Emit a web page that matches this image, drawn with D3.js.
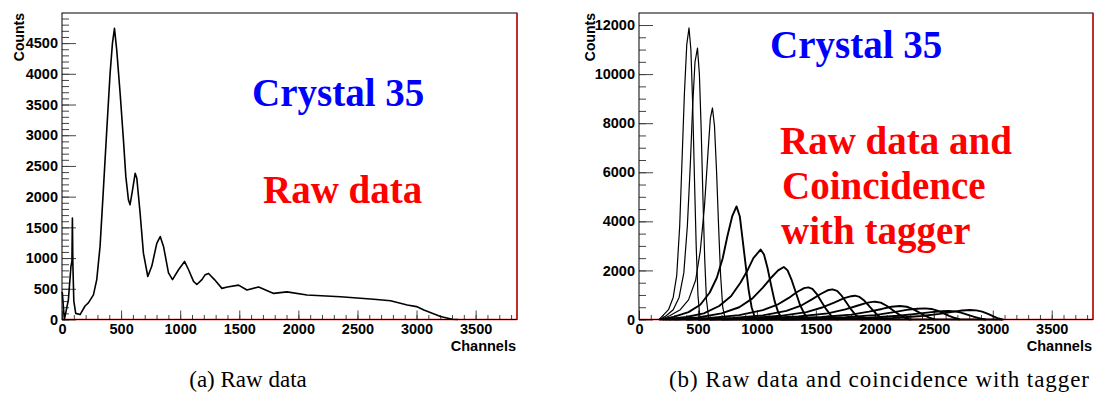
<!DOCTYPE html>
<html><head><meta charset="utf-8">
<script src="https://cdn.jsdelivr.net/npm/d3@7/dist/d3.min.js"></script>
<style>
body{margin:0;background:#fff;}
svg{display:block;}
.tick text{font-family:"Liberation Sans",Arial,sans-serif;font-weight:bold;font-size:14.5px;fill:#000;}
</style></head>
<body><svg id="chart" width="1100" height="401"></svg>
<script>
// ---------- data ----------
const xTicks = [0,500,1000,1500,2000,2500,3000,3500];
const xMinor = d3.range(0,3851,100);
const leftYTicks = [0,500,1000,1500,2000,2500,3000,3500,4000,4500];
const leftYMinor = d3.range(0,4991,100);
const rightYTicks = [0,2000,4000,6000,8000,10000,12000];
const rightYMinor = d3.range(0,12491,500);
const xMax = 3850, leftYMax = 4990, rightYMax = 12490;

// raw spectrum (channel, counts)
const rawChannels = [0,3,20,54,76,84,88,92,100,116,153,195,223,266,294,322,350,379,407,427,444,463,492,520,540,562,576,596,619,633,661,689,726,760,802,831,859,901,935,986,1037,1071,1113,1141,1184,1212,1240,1290,1353,1400,1494,1565,1664,1791,1904,2073,2356,2638,2780,2921,3000,3062,3203,3302,3350];
const rawCounts   = [450,430,0,320,870,950,1650,900,300,100,80,220,270,400,650,1190,2110,3090,4010,4500,4740,4390,3680,2920,2330,1950,1870,2100,2380,2300,1730,1080,700,870,1240,1350,1190,760,650,810,945,810,620,570,650,730,750,650,507,530,560,480,530,425,450,400,370,330,305,235,210,155,50,5,0];

// coincidence-with-tagger spectra, one per tagger channel: [channel, counts]
const tag1  = [[170,0],[200,150],[250,400],[290,900],[320,1800],[345,3800],[365,6500],[385,9200],[405,11200],[424,11880],[440,11000],[455,8800],[470,5800],[485,3000],[500,1000],[515,150],[530,0]];
const tag2  = [[180,0],[230,150],[290,400],[340,900],[380,1900],[410,3800],[435,6300],[455,8700],[475,10500],[496,11060],[512,10000],[527,7800],[542,5000],[557,2500],[572,800],[590,100],[605,0]];
const tag3  = [[190,0],[260,150],[350,400],[420,800],[480,1600],[520,2800],[555,4600],[585,6800],[605,8200],[623,8620],[640,7900],[658,6000],[675,3800],[692,1800],[710,500],[730,50],[745,0]];
const tag4  = [[200,0],[300,120],[420,300],[520,600],[600,1100],[660,1700],[710,2500],[750,3400],[790,4200],[827,4610],[855,4200],[880,3200],[905,2200],[930,1200],[955,500],[980,120],[1000,0]];
const tag5  = [[220,0],[400,100],[550,250],[680,550],[780,950],[860,1500],[920,2000],[970,2500],[1031,2850],[1060,2650],[1090,2100],[1120,1400],[1150,750],[1180,300],[1210,60],[1230,0]];
const tag6  = [[250,0],[500,80],[700,250],[850,500],[960,850],[1050,1300],[1120,1700],[1180,2000],[1228,2140],[1260,2000],[1295,1600],[1330,1100],[1365,600],[1400,250],[1430,50],[1450,0]];
const tag7  = [[300,0],[600,60],[850,180],[1050,380],[1180,620],[1270,880],[1340,1120],[1400,1280],[1436,1310],[1470,1250],[1510,1020],[1550,700],[1590,400],[1630,150],[1670,20],[1690,0]];
const tag8  = [[400,0],[800,60],[1050,170],[1250,350],[1380,580],[1470,830],[1540,1040],[1600,1190],[1640,1230],[1680,1170],[1720,960],[1760,680],[1800,400],[1840,170],[1880,30],[1900,0]];
const tag9  = [[500,0],[900,50],[1200,150],[1420,300],[1560,500],[1660,700],[1740,870],[1800,950],[1831,970],[1870,920],[1910,770],[1950,560],[1990,340],[2030,150],[2070,30],[2090,0]];
const tag10 = [[600,0],[1000,40],[1350,120],[1600,250],[1750,410],[1850,560],[1930,680],[1980,720],[2001,725],[2050,690],[2100,560],[2150,390],[2200,220],[2250,80],[2290,10],[2310,0]];
const tag11 = [[700,0],[1200,30],[1550,100],[1800,200],[1950,320],[2060,430],[2140,520],[2213,550],[2270,520],[2320,430],[2370,300],[2420,170],[2470,60],[2510,0]];
const tag12 = [[900,0],[1400,30],[1750,90],[2000,180],[2150,290],[2270,390],[2360,440],[2425,455],[2480,430],[2530,360],[2580,260],[2630,150],[2680,60],[2720,0]];
const tag13 = [[1000,0],[1600,25],[1950,70],[2200,150],[2350,230],[2480,300],[2570,335],[2626,345],[2680,330],[2730,280],[2790,190],[2850,100],[2900,30],[2940,0]];
const tag14 = [[1200,0],[1800,20],[2150,60],[2400,140],[2550,230],[2660,310],[2740,365],[2807,385],[2860,370],[2910,320],[2960,230],[3010,120],[3050,40],[3080,0]];
const tagSeries = [tag1,tag2,tag3,tag4,tag5,tag6,tag7,tag8,tag9,tag10,tag11,tag12,tag13,tag14];
const tagZeroRange = [170, 3090];

const captions = ["(a) Raw data", "(b) Raw data and coincidence with tagger"];

// ---------- drawing ----------
const svg = d3.select("#chart");

function panel(opts){
  const g = svg.append("g");
  const x = d3.scaleLinear().domain([0,xMax]).range([opts.x0,opts.x1]);
  const y = d3.scaleLinear().domain([0,opts.yMax]).range([319.5,13]);
  const top = y.range()[1], bot = y.range()[0];

  // minor ticks
  g.append("g").attr("transform",`translate(0,${bot})`)
    .call(d3.axisBottom(x).tickValues(opts.xMinor).tickSize(-4.5).tickFormat(""))
    .call(a=>a.select(".domain").remove())
    .call(a=>a.selectAll("line").attr("stroke","#444"));
  g.append("g").attr("transform",`translate(${opts.x0},0)`)
    .call(d3.axisLeft(y).tickValues(opts.yMinor).tickSize(-7).tickFormat(""))
    .call(a=>a.select(".domain").remove())
    .call(a=>a.selectAll("line").attr("stroke","#444"));
  // major ticks
  g.append("g").attr("transform",`translate(0,${bot})`)
    .call(d3.axisBottom(x).tickValues(xTicks).tickSize(-9).tickPadding(3).tickFormat(d3.format("d")))
    .call(a=>a.select(".domain").remove())
    .call(a=>a.selectAll("line").attr("stroke","#444"))
    .call(a=>a.selectAll("text").attr("dy","0.71em").attr("y",4));
  g.append("g").attr("transform",`translate(${opts.x0},0)`)
    .call(d3.axisLeft(y).tickValues(opts.yTicks).tickSize(-14).tickPadding(4).tickFormat(d3.format("d")))
    .call(a=>a.select(".domain").remove())
    .call(a=>a.selectAll("line").attr("stroke","#444"));

  // data
  opts.draw(g,x,y);

  // frame
  g.append("rect").attr("x",opts.x0).attr("y",top).attr("width",opts.x1-opts.x0).attr("height",bot-top)
    .attr("fill","none").attr("stroke","#000").attr("stroke-width",1);
  g.append("line").attr("x1",opts.x1).attr("x2",opts.x1).attr("y1",top).attr("y2",bot).attr("stroke","#e00000").attr("stroke-width",1.3);
  g.insert("line",":first-child").attr("x1",opts.x0).attr("x2",opts.x1).attr("y1",bot).attr("y2",bot).attr("stroke","#e00000").attr("stroke-width",1.5);

  // axis titles
  g.append("text").attr("transform",`translate(${opts.countsX},13) rotate(-90)`)
    .attr("text-anchor","end").attr("font-family","Liberation Sans, Arial, sans-serif")
    .attr("font-weight","bold").attr("font-size","14px").text("Counts");
  g.append("text").attr("x",opts.x1-1).attr("y",351).attr("text-anchor","end")
    .attr("font-family","Liberation Sans, Arial, sans-serif")
    .attr("font-weight","bold").attr("font-size","14.5px").text("Channels");
  return g;
}

// left panel
panel({x0:62,x1:517,yMax:leftYMax,yTicks:leftYTicks,yMinor:leftYMinor,xMinor:xMinor,countsX:24,
  draw:(g,x,y)=>{
    const pts = rawChannels.map((c,i)=>[c,rawCounts[i]]);
    g.append("path").datum(pts)
      .attr("d",d3.line().x(d=>x(d[0])).y(d=>y(d[1])))
      .attr("fill","none").attr("stroke","#000").attr("stroke-width",1.6).attr("stroke-linejoin","round");
  }});

// right panel
panel({x0:639,x1:1093,yMax:rightYMax,yTicks:rightYTicks,yMinor:rightYMinor,xMinor:xMinor,countsX:595,
  draw:(g,x,y)=>{
    g.append("line").attr("x1",x(tagZeroRange[0])).attr("x2",x(tagZeroRange[1]))
      .attr("y1",y(0)).attr("y2",y(0)).attr("stroke","#000").attr("stroke-width",1.8);
    tagSeries.forEach((s,i)=>{
      g.append("path").datum(s)
        .attr("d",d3.line().x(d=>x(d[0])).y(d=>y(d[1])))
        .attr("fill","none").attr("stroke","#000").attr("stroke-width",i<3?1.2:1.9).attr("stroke-linejoin","round");
    });
  }});

// annotations
const serif = "Liberation Serif, Times New Roman, serif";
function note(x,yb,txt,color){
  svg.append("text").attr("x",x).attr("y",yb).attr("font-family",serif).attr("font-weight","bold")
    .attr("font-size","39px").attr("fill",color).text(txt);
}
note(252,106,"Crystal 35","#0000ff");
note(263,203,"Raw data","#ff0000");
note(770,58,"Crystal 35","#0000ff");
note(780,154,"Raw data and","#ff0000");
note(782,199,"Coincidence","#ff0000");
note(781,244,"with tagger","#ff0000");

// captions
svg.append("text").attr("x",248).attr("y",387).attr("text-anchor","middle")
  .attr("font-family",serif).attr("font-size","23px").text(captions[0]);
svg.append("text").attr("x",879).attr("y",387).attr("text-anchor","middle")
  .attr("font-family",serif).attr("font-size","23px").attr("textLength",420).attr("lengthAdjust","spacing").text(captions[1]);
</script></body></html>
